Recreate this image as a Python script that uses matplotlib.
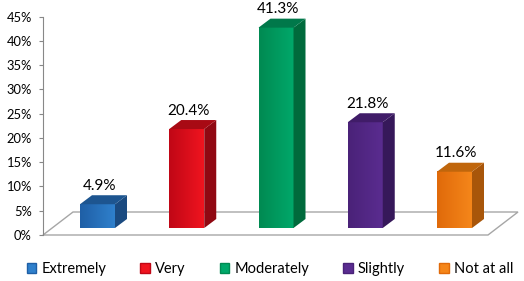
import matplotlib
matplotlib.use("Agg")
import matplotlib.pyplot as plt
import numpy as np
from matplotlib.patches import Polygon, Patch
from matplotlib.colors import to_rgb

categories = ["Extremely", "Very", "Moderately", "Slightly", "Not at all"]
values = [4.9, 20.4, 41.3, 21.8, 11.6]
labels = ["4.9%", "20.4%", "41.3%", "21.8%", "11.6%"]
yticks = [0, 5, 10, 15, 20, 25, 30, 35, 40, 45]

front_dark = ["#1f5fa6", "#c00716", "#008a52", "#4a2278", "#e06a0a"]
front_light = ["#2f80cc", "#f0141f", "#00a86a", "#5a2c90", "#f5861a"]
side_col = ["#1a4a80", "#900812", "#006a3c", "#36185a", "#a8560a"]
top_col = ["#1d5590", "#a80a14", "#00784a", "#401c68", "#c0660c"]

plt.rcParams['font.family'] = ['Lato', 'DejaVu Sans']

fig = plt.figure(figsize=(5.24, 2.81), dpi=100)
W, H = 524, 281
left_px, right_px, top_px, bot_px = 43, 488, 16.7, 235
ax = fig.add_axes([left_px / W, (H - bot_px) / H, (right_px - left_px) / W, (bot_px - top_px) / H])

px_per_cat = 89.25
x0_px = 97.5
xmin = (left_px - x0_px) / px_per_cat
xmax = (right_px - x0_px) / px_per_cat
ax.set_xlim(xmin, xmax)
ax.set_ylim(0, 45)

ppy = (bot_px - top_px) / 45.0
# floor depth
fdx, fdy = 30 / px_per_cat, 23 / ppy
floor = Polygon([(xmin, 0), (xmax, 0), (xmax + fdx, fdy), (xmin + fdx, fdy)],
                closed=True, facecolor="none", edgecolor="#a6a6a6", lw=1.0,
                clip_on=False, zorder=1)
ax.add_patch(floor)

bw = 35 / px_per_cat
bdx, bdy = 12 / px_per_cat, 9 / ppy
base = 7 / ppy

for i, v in enumerate(values):
    xl = i - bw / 2
    xr = i + bw / 2
    yb = base
    yt = base + v
    c1 = np.array(to_rgb(front_dark[i]))
    c2 = np.array(to_rgb(front_light[i]))
    t = np.linspace(0, 1, 64)
    grad = (c1[None, :] * (1 - t[:, None]) + c2[None, :] * t[:, None])[None, :, :]
    im = ax.imshow(grad, extent=(xl, xr, yb, yt), aspect='auto', zorder=3,
                   interpolation='bilinear', clip_on=False)
    rect = Polygon([(xl, yb), (xr, yb), (xr, yt), (xl, yt)], closed=True,
                   facecolor="none", edgecolor="none", transform=ax.transData)
    ax.add_patch(rect)
    im.set_clip_path(rect)
    side = Polygon([(xr, yb), (xr + bdx, yb + bdy), (xr + bdx, yt + bdy), (xr, yt)],
                   closed=True, facecolor=side_col[i], edgecolor="none", zorder=3, clip_on=False)
    top = Polygon([(xl, yt), (xr, yt), (xr + bdx, yt + bdy), (xl + bdx, yt + bdy)],
                  closed=True, facecolor=top_col[i], edgecolor="none", zorder=3, clip_on=False)
    ax.add_patch(side)
    ax.add_patch(top)
    ax.text(i + bdx * 0.15, yt + bdy + 0.5, labels[i], ha="center", va="bottom",
            fontsize=11, color="#000000", zorder=4)

ax.set_yticks(yticks)
ax.set_yticklabels([f"{t}%" for t in yticks], fontsize=9.3, color="#000000")
ax.set_xticks([])
for s in ["top", "right", "bottom"]:
    ax.spines[s].set_visible(False)
ax.spines["left"].set_color("#888888")
ax.spines["left"].set_linewidth(0.8)
ax.tick_params(axis="y", direction="out", length=3, width=0.8, color="#888888", pad=5)
ax.patch.set_visible(False)

handles = [Patch(facecolor=front_light[i], edgecolor=front_dark[i]) for i in range(len(categories))]
fig.legend(handles, categories, loc="center", bbox_to_anchor=(0.515, 12 / H), ncol=5,
           frameon=False, fontsize=10.5, handlelength=0.65, handleheight=0.65,
           handletextpad=0.35, columnspacing=2.35)

fig.savefig("out.png", dpi=100)
